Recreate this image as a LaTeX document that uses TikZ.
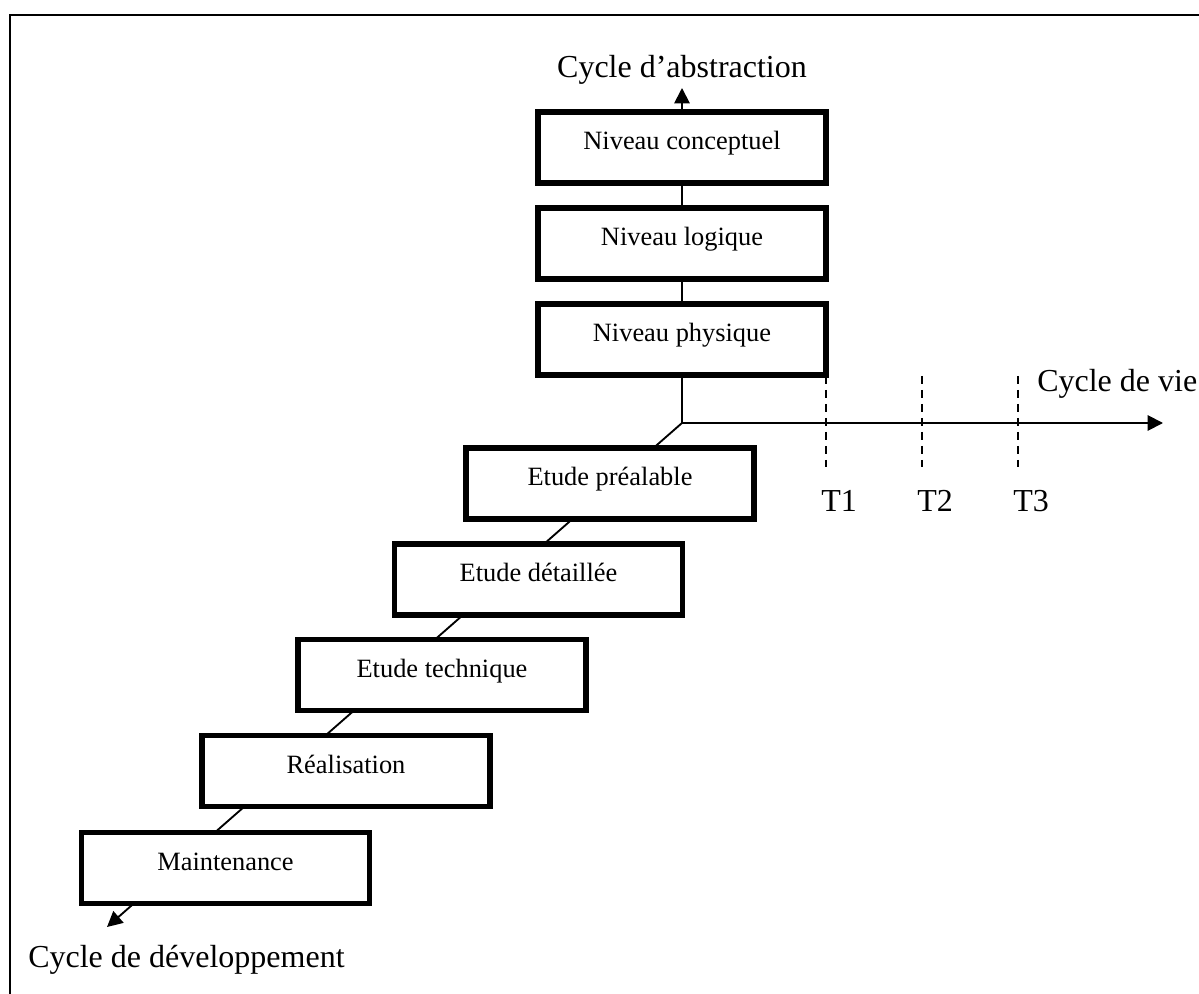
\documentclass[tikz,border=0pt]{standalone}
\usepackage{fontspec}
\setmainfont{Liberation Serif}
\usetikzlibrary{arrows.meta}
\begin{document}
\begin{tikzpicture}[x=0.75pt,y=-0.75pt,
  box/.style={draw, line width=4.2pt, fill=white, minimum width=216pt,
    minimum height=53.5pt, inner sep=0pt, font=\fontsize{19.8}{24}\selectfont,
    text height=14pt, text depth=11pt},
  conn/.style={line width=1.4pt},
  tipped/.style={conn, -{Triangle[length=11.5pt,width=11.5pt]}},
  lbl/.style={font=\fontsize{24}{28}\selectfont, inner sep=0pt},
  tick/.style={line width=1.3pt, dash pattern=on 6pt off 4.5pt}]

\useasboundingbox (0,0) rectangle (1199,994);
\clip (0,0) rectangle (1199,994);

% outer frame (only top and left edges visible)
\draw[line width=1.6pt] (10,1100) -- (10,15) -- (1300,15);

% axes origin and ends
\coordinate (O) at (682,423);
\coordinate (D) at (107,927);
\coordinate (A) at (682,88);
\coordinate (E) at (1163,423);

% development axis (behind the boxes)
\draw[tipped] (O) -- (D);

% abstraction boxes
\node[box] (conc) at (682,147.5) {Niveau conceptuel};
\node[box] (logi) at (682,243.5) {Niveau logique};
\node[box] (phys) at (682,339.5) {Niveau physique};

% development boxes
\node[box] (prea) at (610,483.5) {Etude préalable};
\node[box] (deta) at (538.5,579.5) {Etude détaillée};
\node[box] (tech) at (442,675) {Etude technique};
\node[box] (real) at (346,771) {Réalisation};
\node[box] (main) at (225.5,868) {Maintenance};

% abstraction axis
\draw[tipped] (conc.north) -- (A);
\draw[conn] (conc.south) -- (logi.north);
\draw[conn] (logi.south) -- (phys.north);
\draw[conn] (phys.south) -- (O);

% life cycle axis
\draw[tipped] (O) -- (E);

% time marks
\foreach \n/\x in {1/826,2/922,3/1018}{
  \coordinate (t\n a) at (\x,376);
  \coordinate (t\n b) at (\x,467);
  \draw[tick] (t\n a) -- (t\n b);
  \node[lbl, anchor=base west] (T\n) at (\x-5,512) {T\n};
}

% labels
\node[lbl, anchor=base] (labs) at (682,78) {Cycle d’abstraction};
\node[lbl, anchor=base west] (lvie) at (1037,392) {Cycle de vie};
\node[lbl, anchor=base west] (ldev) at (28,967) {Cycle de développement};
\end{tikzpicture}
\end{document}
